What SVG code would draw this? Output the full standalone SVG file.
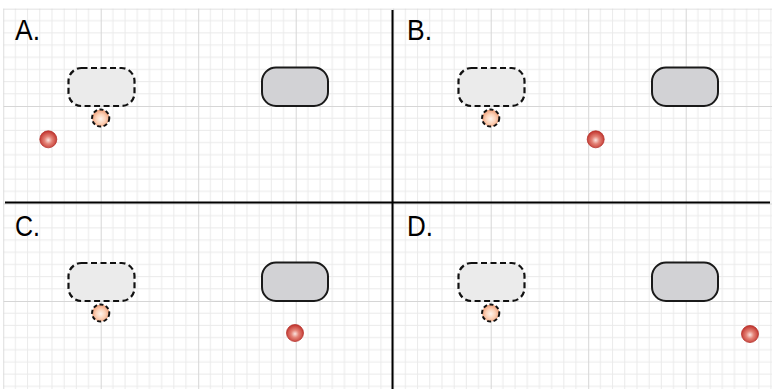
<svg xmlns="http://www.w3.org/2000/svg" width="772" height="389" viewBox="0 0 772 389">
<style>
.lbl{font-family:"Liberation Sans",Arial,sans-serif;font-size:30px;fill:#000}
.dash{fill:#ebebeb;stroke:#111;stroke-width:2.2;stroke-dasharray:6 3.5}
.solid{fill:#d2d2d5;stroke:#1a1a1a;stroke-width:2}
.dot{fill:url(#peach);stroke:#111;stroke-width:2;stroke-dasharray:4 2.5}
.ball{fill:url(#red);stroke:#b5332d;stroke-width:0.8}
.div{stroke:#000;stroke-width:2}
</style>
<defs>
<pattern id="grid" patternUnits="userSpaceOnUse" x="3.2" y="8.5" width="97.5" height="97.5">
<path d="M12.19 0V97.5M24.38 0V97.5M36.56 0V97.5M48.75 0V97.5M60.94 0V97.5M73.13 0V97.5M85.31 0V97.5M0 12.19H97.5M0 24.38H97.5M0 36.56H97.5M0 48.75H97.5M0 60.94H97.5M0 73.13H97.5M0 85.31H97.5" stroke="#eaeaea" stroke-width="1" fill="none"/>
<path d="M0.5 0V97.5M0 0.5H97.5" stroke="#d6d6d6" stroke-width="1" fill="none"/>
</pattern>
<radialGradient id="peach" cx="50%" cy="55%" r="55%">
<stop offset="0" stop-color="#fff4ec"/>
<stop offset="0.5" stop-color="#fcd2b8"/>
<stop offset="1" stop-color="#f09a72"/>
</radialGradient>
<radialGradient id="red" cx="50%" cy="55%" r="55%">
<stop offset="0" stop-color="#fbe4e0"/>
<stop offset="0.4" stop-color="#e48478"/>
<stop offset="1" stop-color="#c0302a"/>
</radialGradient>
</defs>
<rect x="3.2" y="8.5" width="768.8" height="380.5" fill="url(#grid)"/>
<g id="dividers">
<line class="div" x1="392.5" y1="10" x2="392.5" y2="389"/>
<line class="div" x1="5" y1="202.5" x2="770" y2="202.5"/>
</g>
<g id="panel-A">
<text class="lbl" x="15" y="40" textLength="25" lengthAdjust="spacingAndGlyphs">A.</text>
<g id="A-dashed"><rect class="dash" x="68.5" y="68" width="66" height="38" rx="13"/></g>
<g id="A-dot"><circle class="dot" cx="100.7" cy="118" r="8.6"/></g>
<g id="A-solid"><rect class="solid" x="262" y="67.5" width="66" height="38.5" rx="14"/></g>
<g id="A-ball"><circle class="ball" cx="48.3" cy="139.3" r="8.5"/></g>
</g>
<g id="panel-B">
<text class="lbl" x="407" y="40" textLength="25" lengthAdjust="spacingAndGlyphs">B.</text>
<g id="B-dashed"><rect class="dash" x="458.5" y="68" width="66" height="38" rx="13"/></g>
<g id="B-dot"><circle class="dot" cx="490.7" cy="118" r="8.6"/></g>
<g id="B-solid"><rect class="solid" x="652" y="67.5" width="66" height="38.5" rx="14"/></g>
<g id="B-ball"><circle class="ball" cx="595.7" cy="139.3" r="8.5"/></g>
</g>
<g id="panel-C">
<text class="lbl" x="15" y="235.5" textLength="25" lengthAdjust="spacingAndGlyphs">C.</text>
<g id="C-dashed"><rect class="dash" x="68.5" y="263" width="66" height="38" rx="13"/></g>
<g id="C-dot"><circle class="dot" cx="100.7" cy="313" r="8.6"/></g>
<g id="C-solid"><rect class="solid" x="262" y="262.5" width="66" height="38.5" rx="14"/></g>
<g id="C-ball"><circle class="ball" cx="295" cy="333" r="8.5"/></g>
</g>
<g id="panel-D">
<text class="lbl" x="407" y="235.5" textLength="26" lengthAdjust="spacingAndGlyphs">D.</text>
<g id="D-dashed"><rect class="dash" x="458.5" y="263" width="66" height="38" rx="13"/></g>
<g id="D-dot"><circle class="dot" cx="490.7" cy="313" r="8.6"/></g>
<g id="D-solid"><rect class="solid" x="652" y="262.5" width="66" height="38.5" rx="14"/></g>
<g id="D-ball"><circle class="ball" cx="750" cy="334" r="8.5"/></g>
</g>
<g id="connectors"/>
</svg>
